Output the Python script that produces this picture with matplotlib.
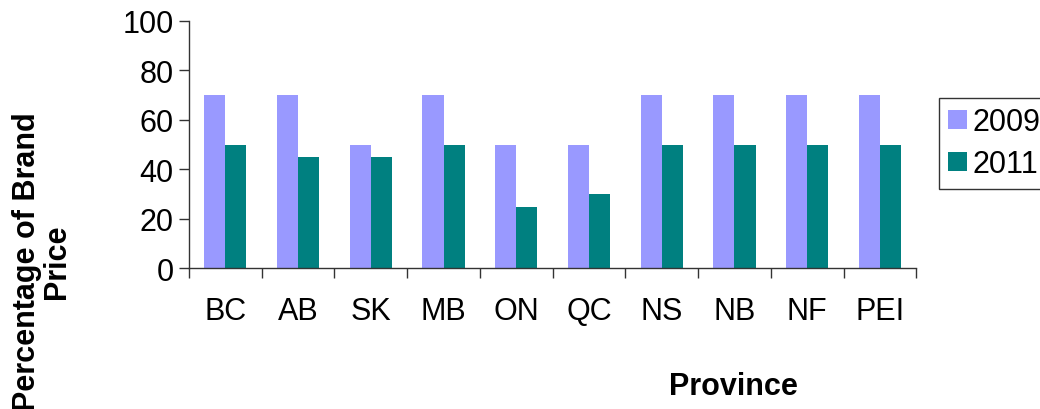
import numpy as np
import matplotlib.pyplot as plt

provinces = ["BC", "AB", "SK", "MB", "ON", "QC", "NS", "NB", "NF", "PEI"]
pct_2009 = [70, 70, 50, 70, 50, 50, 70, 70, 70, 70]
pct_2011 = [50, 45, 45, 50, 25, 30, 50, 50, 50, 50]
yticks = [0, 20, 40, 60, 80, 100]

plt.rcParams['font.family'] = ['Liberation Sans', 'DejaVu Sans']
fs = 22

fig = plt.figure(figsize=(10.4, 4.1), dpi=100)
ax = fig.add_axes([0.1817, 0.3427, 0.6993, 0.6044])

x = np.arange(len(provinces))
w = 0.29
ax.bar(x - w / 2, pct_2009, w, color="#9999FF", label="2009")
ax.bar(x + w / 2, pct_2011, w, color="#008080", label="2011")

ax.set_xlim(-0.5, len(provinces) - 0.5)
ax.set_ylim(0, 100)
ax.set_yticks(yticks)
ax.set_yticklabels([str(v) for v in yticks], fontsize=fs)

# category labels centred, tick marks between categories
ax.set_xticks(x)
ax.set_xticklabels(provinces, fontsize=fs)
ax.tick_params(axis='x', length=0, pad=20)
ax.set_xticks(np.arange(len(provinces) + 1) - 0.5, minor=True)
ax.tick_params(axis='x', which='minor', length=7, width=1, color='#333333')
ax.tick_params(axis='y', length=7, width=1, color='#333333', pad=4)

for side in ("top", "right"):
    ax.spines[side].set_visible(False)
for side in ("left", "bottom"):
    ax.spines[side].set_color('#333333')
    ax.spines[side].set_linewidth(1)

fig.text(42 / 1040, 1 - 262 / 410, "Percentage of Brand\nPrice", rotation=90,
         ha='center', va='center', fontsize=fs, fontweight='bold', linespacing=1.0)
fig.text(733 / 1040, 1 - 387 / 410, "Province", ha='center', va='center',
         fontsize=fs, fontweight='bold')

leg = fig.legend(loc='upper left', bbox_to_anchor=(939 / 1040, 1 - 99 / 410),
                 fontsize=fs, frameon=True, fancybox=False, borderaxespad=0,
                 handlelength=0.6, handleheight=0.6, handletextpad=0.2,
                 labelspacing=0.4, borderpad=0.3)
leg.get_frame().set_edgecolor('black')
leg.get_frame().set_linewidth(1)

fig.savefig("out.png", dpi=100)
